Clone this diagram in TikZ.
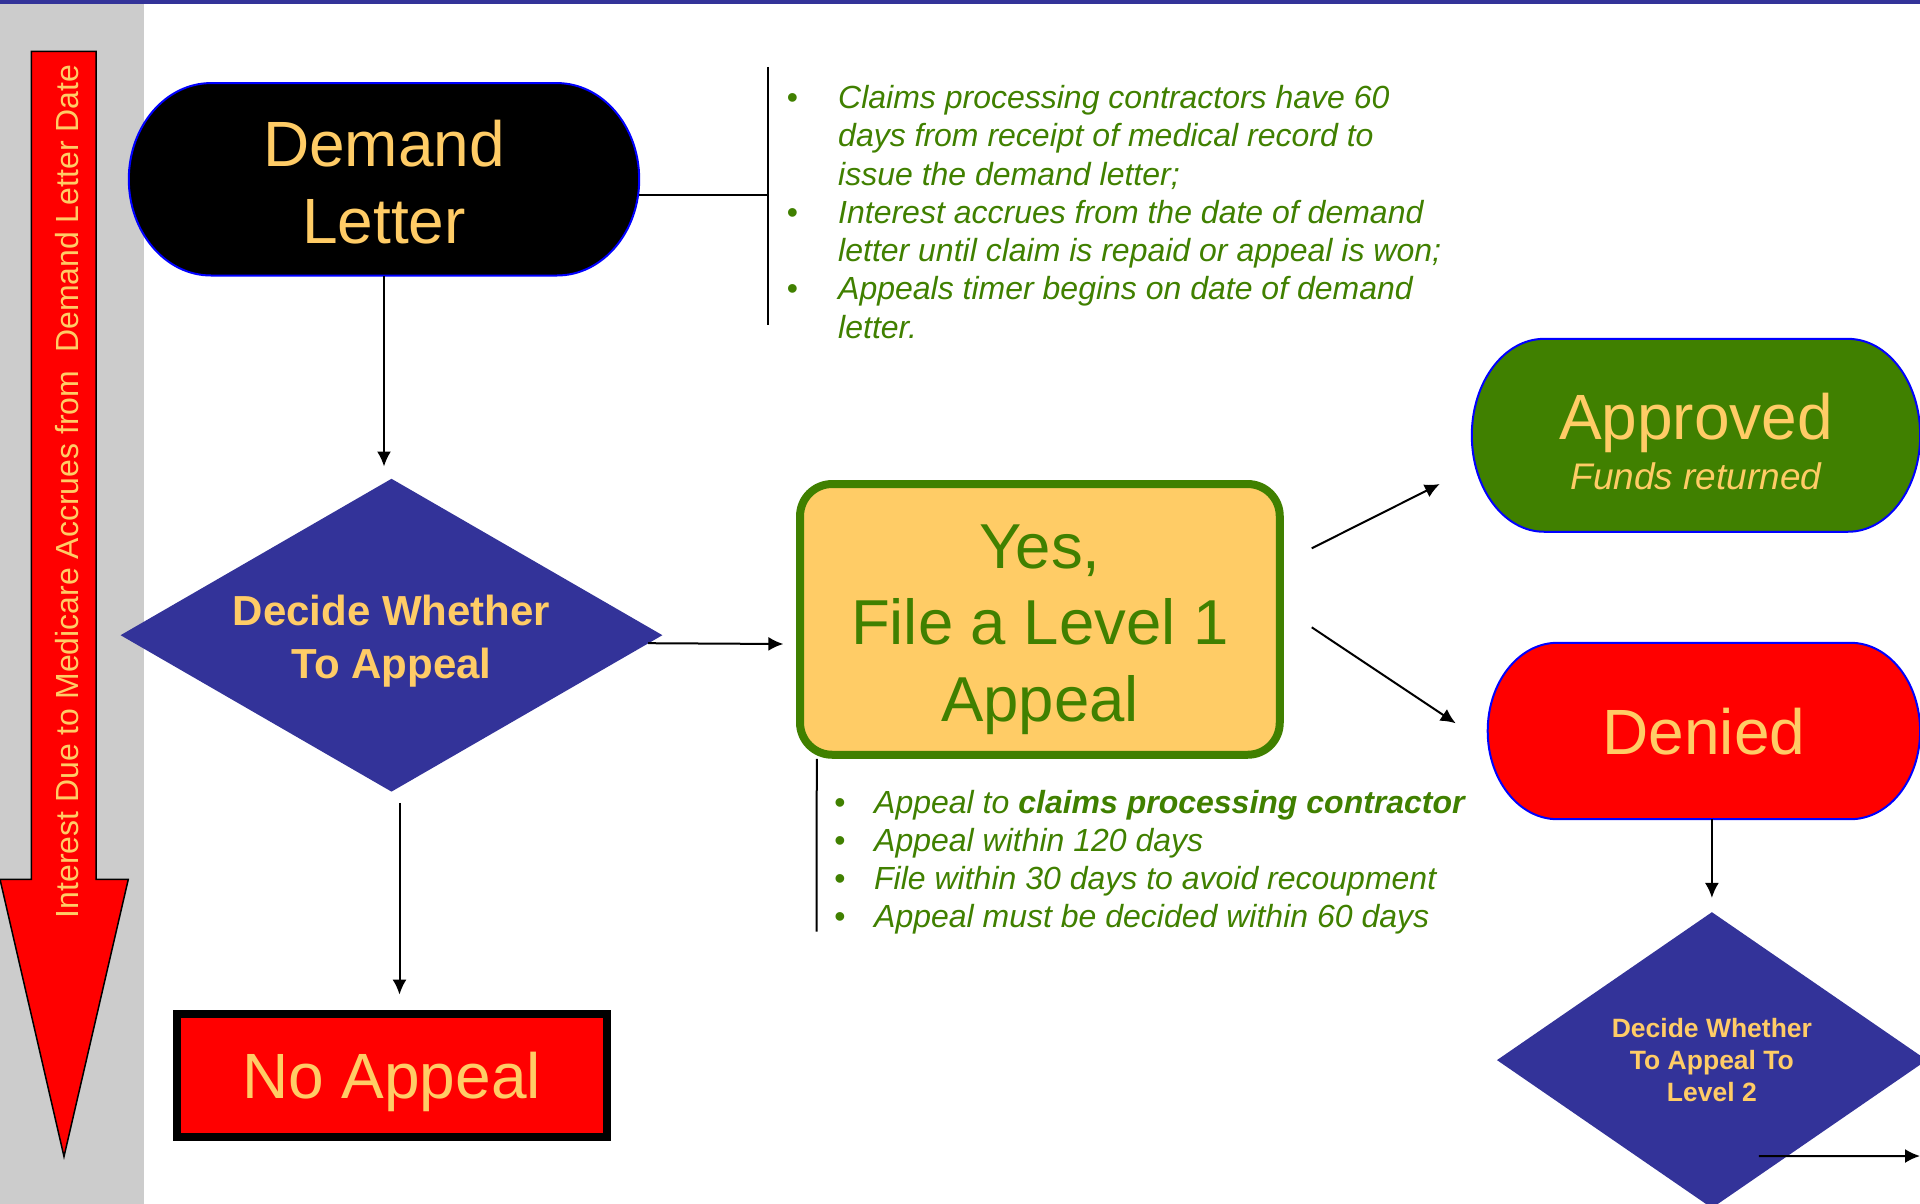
\documentclass[tikz,border=0pt]{standalone}
\usepackage{fontspec}
\setmainfont{Liberation Sans}
\usetikzlibrary{positioning, arrows.meta, calc, shapes, backgrounds}
\definecolor{appealBlue}{HTML}{333399}
\definecolor{appealGold}{HTML}{FFCC66}
\definecolor{appealGreen}{HTML}{408000}
\definecolor{bandGray}{HTML}{CCCCCC}
\tikzstyle{terminal} =[align=center, inner sep=0pt, text=appealGold, text depth=-4pt, font=\fontsize{64}{77}\selectfont]
\tikzstyle{decision} =[diamond, fill=appealBlue, text=appealGold, align=center, inner sep=0pt, text depth=0pt]
\tikzstyle{connector} =[-{Latex[length=15pt, width=14pt]}, line width=2pt, black]
\tikzstyle{notes} =[text=appealGreen, inner sep=0pt, anchor=base west, font=\itshape\fontsize{32}{38.3}\selectfont]

% pill shape with elliptic ends, drawn behind a named node
\newcommand{\drawTerminator}[2]{%
  \path let \p1 = (#1.north west), \p2 = (#1.south east),
    \n1 = {0.161*(\x2-\x1)}, \n2 = {(\y1-\y2)/2} in
    [draw=blue, line width=2pt, fill=#2]
    (\x1+\n1, \y1) -- (\x2-\n1, \y1)
    arc[start angle=90, end angle=-90, x radius=\n1, y radius=\n2]
    -- (\x1+\n1, \y2)
    arc[start angle=270, end angle=90, x radius=\n1, y radius=\n2] -- cycle;}

\begin{document}
\begin{tikzpicture}[x=1pt, y=-1pt]
\useasboundingbox (0,0) rectangle (1920,1204);

% interest arrow
\draw[fill=red, line width=1.5pt] (31.3,51.5) -- (96,51.5) -- (96,879.3) -- (128.3,879.3) -- (64,1156.5) -- (0,879.3) -- (31.3,879.3) -- cycle;
\node (interestNote) [rotate=90, text=appealGold, inner sep=0pt, font=\fontsize{32}{38}\selectfont] at (67,491.5) {Interest Due to Medicare Accrues from~ Demand Letter Date};

\node (demandLetter) [terminal, minimum width=510pt, minimum height=192pt] at (384,179.3) {\rule{0pt}{52pt}Demand\\Letter};

\node (decideOne) [decision, minimum width=542pt, minimum height=313pt, aspect=1.73, font=\bfseries\fontsize{42}{53}\selectfont, below=203pt of demandLetter, xshift=7.5pt] {\rule{0pt}{33pt}Decide Whether\\To Appeal};

\node (noAppeal) [fill=red, draw=black, line width=8pt, minimum width=430pt, minimum height=123pt, text=appealGold, text depth=-2pt, font=\fontsize{64}{77}\selectfont, below=217.7pt of decideOne] {No Appeal};

\node (fileLevelOne) [fill=appealGold, draw=appealGreen, line width=8pt, rounded corners=32pt, minimum width=479.7pt, minimum height=270.7pt, align=center, text=appealGreen, text depth=0pt, font=\fontsize{63.5}{76.7}\selectfont] at (1039.9,619.4) {\rule{0pt}{51pt}Yes,\\File a Level 1\\Appeal};

\node (approved) [terminal, minimum width=448pt, minimum height=192.5pt, text depth=0pt, font=\fontsize{64}{50}\selectfont] at (1696,435.3) {\rule{0pt}{58pt}Approved\\{\itshape\fontsize{37}{50}\selectfont Funds returned}};

\node (denied) [terminal, minimum width=432pt, minimum height=176pt] at (1703.9,731) {Denied};

\node (decideTwo) [decision, minimum width=430pt, minimum height=296pt, aspect=1.45, font=\bfseries\fontsize{26.5}{31.8}\selectfont, below=92.7pt of denied, xshift=8pt] {Decide Whether\\To Appeal To\\Level 2};

\node (demandNotes) [notes] at (786.4,108.5) {\begin{tabular}[t]{@{}p{51.6pt}@{}l@{}}
\textbullet & Claims processing contractors have 60\\
 & days from receipt of medical record to\\
 & issue the demand letter;\\
\textbullet & Interest accrues from the date of demand\\
 & letter until claim is repaid or appeal is won;\\
\textbullet & Appeals timer begins on date of demand\\
 & letter.
\end{tabular}};

\node (appealNotes) [notes] at (834,813) {\begin{tabular}[t]{@{}p{40pt}@{}l@{}}
\textbullet & Appeal to \textbf{claims processing contractor}\\
\textbullet & Appeal within 120 days\\
\textbullet & File within 30 days to avoid recoupment\\
\textbullet & Appeal must be decided within 60 days
\end{tabular}};

\coordinate (demandBrace) at (768,67);
\coordinate (demandBraceEnd) at (768,324.5);
\coordinate (appealBrace) at (816.7,931.7);
\coordinate (levelTwoOut) at (1920,1156);

\draw[line width=2pt] (demandBrace) -- (demandBraceEnd);
\draw[line width=2pt] ([shift={(0,15.4)}]demandLetter.east) -- ([shift={(0,15.4)}]demandLetter.east -| demandBrace);
\draw[line width=2pt] ([shift={(20.7,0)}]fileLevelOne.south west) -- (appealBrace);

\draw[connector] (demandLetter.south) -- ([shift={(-7.5,-12)}]decideOne.north);
\draw[connector] ([shift={(-14.5,8)}]decideOne.east) -- ([shift={(-12.7,24.6)}]fileLevelOne.west);
\draw[connector] ([shift={(8,11)}]decideOne.south) -- ([shift={(8,-15)}]noAppeal.north);
\draw[connector] ([shift={(28,-71.1)}]fileLevelOne.east) -- ([shift={(-32,48.7)}]approved.west);
\draw[connector] ([shift={(28,7.9)}]fileLevelOne.east) -- ([shift={(-32,-7.7)}]denied.west);
\draw[connector] ([shift={(8,0)}]denied.south) -- ([shift={(0,-14)}]decideTwo.north);
\draw[connector] ([shift={(47,96)}]decideTwo.center) -- (levelTwoOut);

\begin{scope}[on background layer]
\fill[bandGray] (0,4.5) rectangle (144,1204);
\fill[appealBlue] (0,0) rectangle (1920,4.5);
\drawTerminator{demandLetter}{black}
\drawTerminator{approved}{appealGreen}
\drawTerminator{denied}{red}
\end{scope}
\end{tikzpicture}
\end{document}
